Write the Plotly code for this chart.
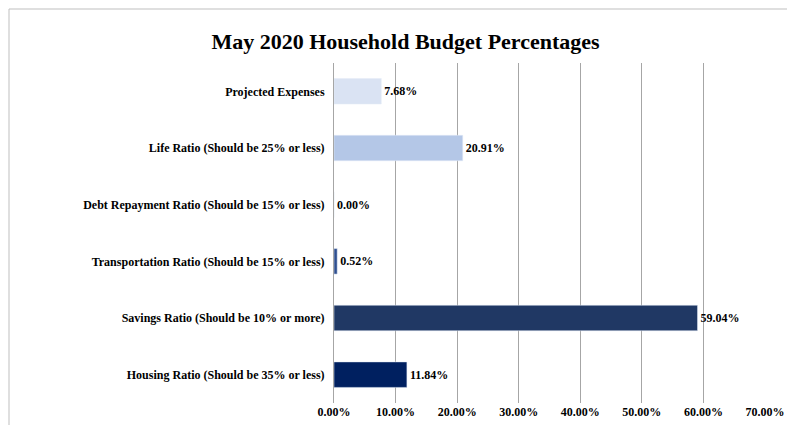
import plotly.graph_objects as go

# Data (top to bottom in the picture, reversed for plotly's bottom-up y axis)
categories = [
    "Housing Ratio (Should be 35% or less)",
    "Savings Ratio (Should be 10% or more)",
    "Transportation Ratio (Should be 15% or less)",
    "Debt Repayment Ratio (Should be 15% or less)",
    "Life Ratio (Should be 25% or less)",
    "Projected Expenses",
]
values = [11.84, 59.04, 0.52, 0.00, 20.91, 7.68]
bar_colors = ["#002060", "#203864", "#2f4f8f", "#8faadc", "#b4c7e7", "#dae3f3"]
tick_vals = [0, 10, 20, 30, 40, 50, 60, 70]
tick_text = ["<b>{:.2f}%</b>".format(v) for v in tick_vals]

font_family = "Liberation Serif, DejaVu Serif, serif"

fig = go.Figure(go.Bar(
    x=values,
    y=categories,
    orientation="h",
    marker=dict(color=bar_colors),
    text=["<b>{:.2f}%</b>".format(v) for v in values],
    textposition="outside",
    textfont=dict(family=font_family, size=12, color="black"),
    cliponaxis=False,
))

fig.update_layout(
    width=795, height=425,
    paper_bgcolor="white", plot_bgcolor="white",
    margin=dict(l=326, r=38, t=55, b=30),
    bargap=0.55,
    showlegend=False,
    title=dict(text="<b>May 2020 Household Budget Percentages</b>",
               x=0.5, xanchor="center", y=0.94,
               font=dict(family=font_family, size=22, color="black")),
    font=dict(family=font_family, size=12, color="black"),
    xaxis=dict(range=[0, 70], tickvals=tick_vals, ticktext=tick_text,
               showgrid=True, gridcolor="#a6a6a6", gridwidth=1,
               zeroline=False, tickfont=dict(size=12),
               showline=False, automargin=False),
    yaxis=dict(showline=True, linecolor="#a6a6a6", ticks="outside",
               ticklen=6, tickcolor="white", automargin=False,
               tickfont=dict(size=12, weight="bold")),
    shapes=[dict(type="rect", xref="paper", yref="paper",
                 x0=-325 / 431, x1=1 + 37 / 431, y0=-29 / 340, y1=1 + 54 / 340,
                 line=dict(color="#bfbfbf", width=1))],
)

fig.write_html("out.html")
